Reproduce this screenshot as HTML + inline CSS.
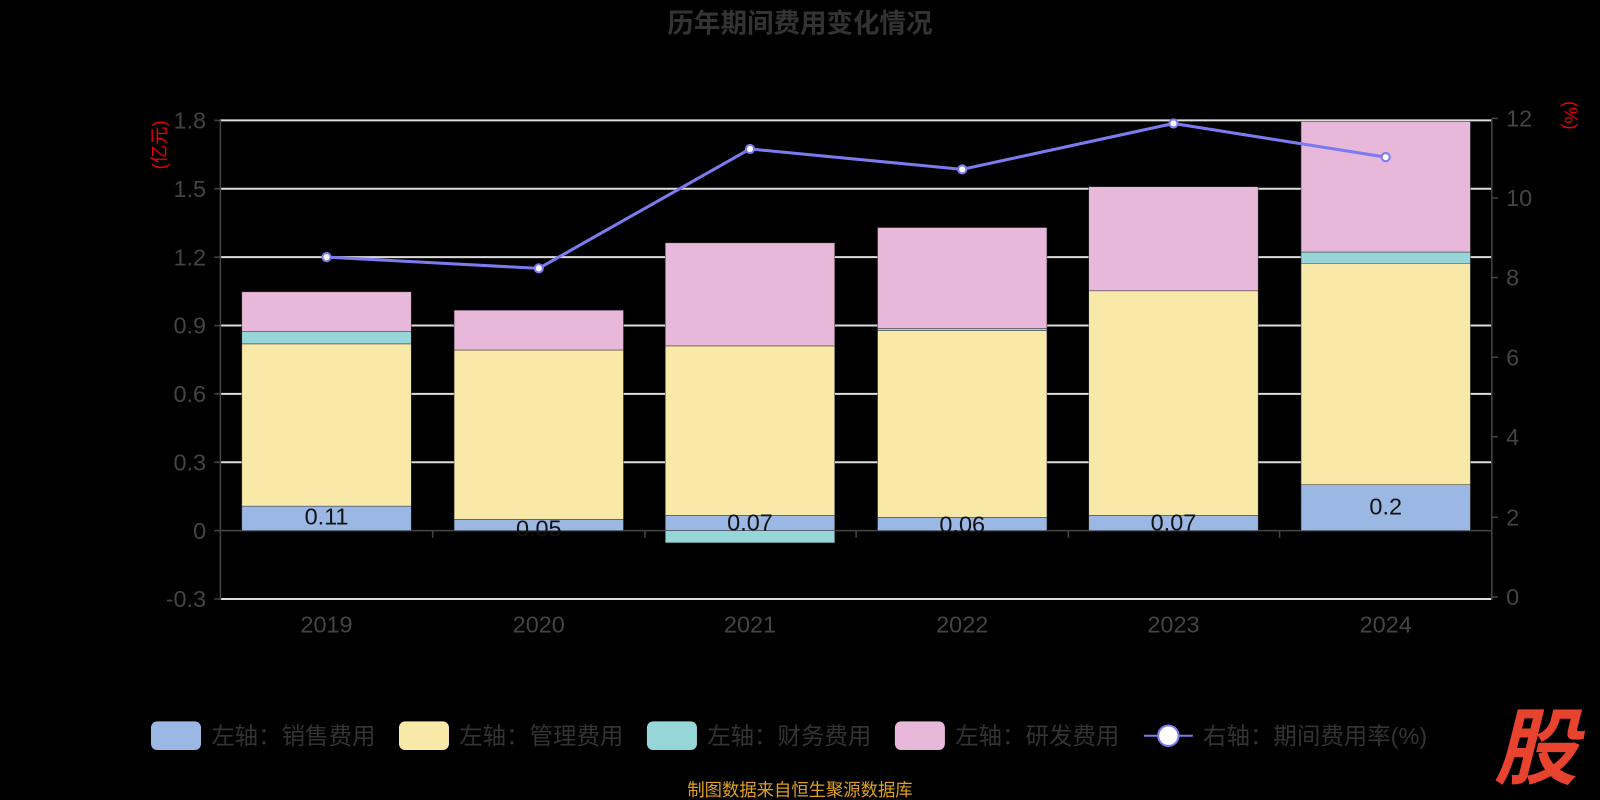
<!DOCTYPE html><html><head><meta charset="utf-8"><style>body{margin:0;background:#000}svg{display:block}text{font-family:"Liberation Sans","Noto Sans CJK SC",sans-serif}</style></head><body>
<svg width="1600" height="800" viewBox="0 0 1568 784" xmlns="http://www.w3.org/2000/svg">
<rect width="1568" height="784" fill="#000"/>
<text x="784" y="32" text-anchor="middle" font-size="26" font-weight="bold" fill="#333">历年期间费用变化情况</text>
<g stroke="#ddd" stroke-width="2">
<line x1="216" x2="1462" y1="118" y2="118"/><line x1="216" x2="1462" y1="185" y2="185"/><line x1="216" x2="1462" y1="252" y2="252"/><line x1="216" x2="1462" y1="319" y2="319"/><line x1="216" x2="1462" y1="386" y2="386"/><line x1="216" x2="1462" y1="453" y2="453"/><line x1="216" x2="1462" y1="587" y2="587"/>
</g>
<g stroke="#444" stroke-width="1.5">
<line x1="216" x2="216" y1="118" y2="588"/><line x1="1462" x2="1462" y1="116" y2="588"/>
<line x1="216" x2="1462" y1="520" y2="520"/>
<line x1="210" x2="216" y1="118" y2="118"/><line x1="210" x2="216" y1="185" y2="185"/><line x1="210" x2="216" y1="252" y2="252"/><line x1="210" x2="216" y1="319" y2="319"/><line x1="210" x2="216" y1="386" y2="386"/><line x1="210" x2="216" y1="453" y2="453"/><line x1="210" x2="216" y1="520" y2="520"/><line x1="210" x2="216" y1="587" y2="587"/>
<line x1="1462" x2="1468" y1="116" y2="116"/><line x1="1462" x2="1468" y1="194" y2="194"/><line x1="1462" x2="1468" y1="272" y2="272"/><line x1="1462" x2="1468" y1="350" y2="350"/><line x1="1462" x2="1468" y1="428" y2="428"/><line x1="1462" x2="1468" y1="507" y2="507"/><line x1="1462" x2="1468" y1="585" y2="585"/>
<line x1="424" x2="424" y1="520" y2="527"/><line x1="632" x2="632" y1="520" y2="527"/><line x1="839" x2="839" y1="520" y2="527"/><line x1="1047" x2="1047" y1="520" y2="527"/><line x1="1254" x2="1254" y1="520" y2="527"/>
</g>
<g font-size="23" fill="#444" text-anchor="end">
<text x="202" y="126">1.8</text><text x="202" y="193">1.5</text><text x="202" y="260">1.2</text><text x="202" y="327">0.9</text><text x="202" y="394">0.6</text><text x="202" y="461">0.3</text><text x="202" y="528">0</text><text x="202" y="595">-0.3</text>
</g>
<g font-size="23" fill="#444">
<text x="1476" y="124">12</text><text x="1476" y="202">10</text><text x="1476" y="280">8</text><text x="1476" y="358">6</text><text x="1476" y="436">4</text><text x="1476" y="515">2</text><text x="1476" y="593">0</text>
</g>
<g font-size="23" fill="#444" text-anchor="middle">
<text x="320" y="620">2019</text><text x="528" y="620">2020</text><text x="735" y="620">2021</text><text x="943" y="620">2022</text><text x="1150" y="620">2023</text><text x="1358" y="620">2024</text>
</g>
<text transform="translate(162,142) rotate(-90)" font-size="18" fill="#e00" text-anchor="middle">(亿元)</text>
<text transform="translate(1533,113) rotate(90)" font-size="18" fill="#e00" text-anchor="middle">(%)</text>
<g stroke="#333" stroke-width="0.5">
<rect x="237" y="496" width="166" height="24" fill="#9ab8e3"/><rect x="237" y="337" width="166" height="159" fill="#f9e9a9"/><rect x="237" y="325" width="166" height="12" fill="#96d5d8"/><rect x="237" y="286" width="166" height="39" fill="#e8b8da"/>
<rect x="445" y="509" width="166" height="11" fill="#9ab8e3"/><rect x="445" y="343" width="166" height="166" fill="#f9e9a9"/><rect x="445" y="304" width="166" height="39" fill="#e8b8da"/>
<rect x="652" y="505" width="166" height="15" fill="#9ab8e3"/><rect x="652" y="339" width="166" height="166" fill="#f9e9a9"/><rect x="652" y="520" width="166" height="12" fill="#96d5d8"/><rect x="652" y="238" width="166" height="101" fill="#e8b8da"/>
<rect x="860" y="507" width="166" height="13" fill="#9ab8e3"/><rect x="860" y="324" width="166" height="183" fill="#f9e9a9"/><rect x="860" y="322" width="166" height="2" fill="#96d5d8"/><rect x="860" y="223" width="166" height="99" fill="#e8b8da"/>
<rect x="1067" y="505" width="166" height="15" fill="#9ab8e3"/><rect x="1067" y="285" width="166" height="220" fill="#f9e9a9"/><rect x="1067" y="183" width="166" height="102" fill="#e8b8da"/>
<rect x="1275" y="475" width="166" height="45" fill="#9ab8e3"/><rect x="1275" y="258" width="166" height="217" fill="#f9e9a9"/><rect x="1275" y="247" width="166" height="11" fill="#96d5d8"/><rect x="1275" y="119" width="166" height="128" fill="#e8b8da"/>
</g>
<g font-size="23" fill="#111" text-anchor="middle">
<text x="320" y="514">0.11</text><text x="528" y="526">0.05</text><text x="735" y="520">0.07</text><text x="943" y="522">0.06</text><text x="1150" y="520">0.07</text><text x="1358" y="504">0.2</text>
</g>
<polyline points="320,252 528,263 735,146 943,166 1150,121 1358,154" fill="none" stroke="#7b7bef" stroke-width="3"/>
<g fill="#fff" stroke="#7b7bef" stroke-width="2">
<circle cx="320" cy="252" r="4"/><circle cx="528" cy="263" r="4"/><circle cx="735" cy="146" r="4"/><circle cx="943" cy="166" r="4"/><circle cx="1150" cy="121" r="4"/><circle cx="1358" cy="154" r="4"/>
</g>
<g font-size="23" fill="#333">
<rect x="148" y="707" width="49" height="28" rx="6" fill="#9ab8e3"/><text x="207" y="729">左轴：销售费用</text>
<rect x="391" y="707" width="49" height="28" rx="6" fill="#f9e9a9"/><text x="450" y="729">左轴：管理费用</text>
<rect x="634" y="707" width="49" height="28" rx="6" fill="#96d5d8"/><text x="693" y="729">左轴：财务费用</text>
<rect x="877" y="707" width="49" height="28" rx="6" fill="#e8b8da"/><text x="936" y="729">左轴：研发费用</text>
<line x1="1121" x2="1169" y1="721" y2="721" stroke="#7b7bef" stroke-width="2"/><circle cx="1145" cy="721" r="10" fill="#fff" stroke="#7b7bef" stroke-width="2"/><text x="1179" y="729">右轴：期间费用率(%)</text>
</g>
<text x="784" y="780" text-anchor="middle" font-size="17" fill="#e0a020">制图数据来自恒生聚源数据库</text>
<text x="1505" y="762" text-anchor="middle" font-size="82" font-weight="bold" font-style="italic" fill="#e8432e">股</text>
</svg>
</body></html>
